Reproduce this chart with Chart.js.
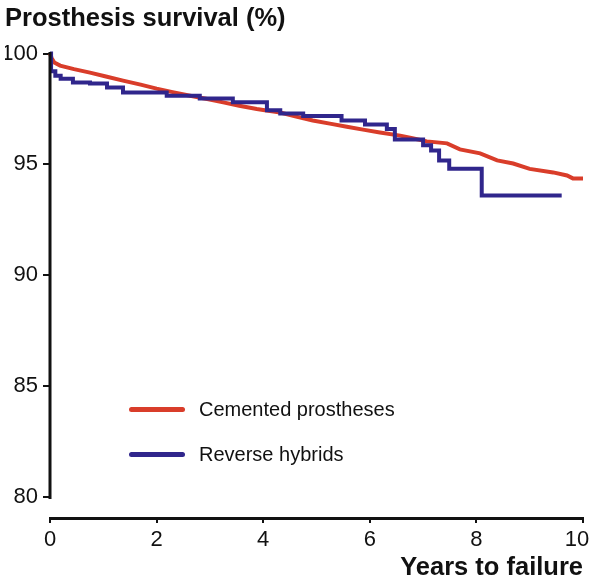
<!DOCTYPE html>
<html lang="en">
<head>
<meta charset="UTF-8">
<title>Prosthesis survival</title>
<script src="https://cdn.jsdelivr.net/npm/chart.js@4.4.0/dist/chart.umd.min.js"></script>
<style>
    body { margin: 0; background: #fff; }
    #wrap { position: relative; width: 590px; height: 583px; }
    .key { position: absolute; left: 129px; font: 20px "Liberation Sans", Arial, sans-serif; color: #111; }
    .key .line { position: absolute; left: 0; top: -2.5px; width: 56px; height: 5px; border-radius: 3px; }
    .key .txt { position: absolute; left: 70px; top: -12px; line-height: 24px; white-space: nowrap; }
</style>
</head>
<body>
<div id="wrap">
    <canvas id="survivalChart"></canvas>
    <div class="key" style="top:409px"><span class="line" style="background:#d93d2a"></span><span class="txt">Cemented prostheses</span></div>
    <div class="key" style="top:454px"><span class="line" style="background:#30268c"></span><span class="txt">Reverse hybrids</span></div>
</div>
<script>
    // values
    var cementedYears = [0, 0.03, 0.08, 0.19, 0.45, 0.75, 1.05, 1.37, 1.7, 2.0, 2.3, 2.63, 2.95, 3.25, 3.55, 3.88, 4.0, 4.32, 4.6, 4.93, 5.25, 5.57, 5.9, 6.19, 6.57, 6.8, 7.07, 7.45, 7.69, 8.07, 8.39, 8.69, 9.0, 9.44, 9.7, 9.81, 10.0];
    var cementedSurvival = [100, 99.8, 99.6, 99.46, 99.3, 99.14, 98.97, 98.78, 98.6, 98.42, 98.26, 98.1, 97.95, 97.8, 97.65, 97.5, 97.46, 97.34, 97.17, 96.98, 96.84, 96.7, 96.56, 96.44, 96.3, 96.18, 96.04, 95.95, 95.68, 95.5, 95.18, 95.04, 94.8, 94.64, 94.5, 94.37, 94.37];

    var reverseYears = [0, 0.02, 0.1, 0.2, 0.43, 0.75, 1.07, 1.37, 2.19, 2.81, 3.43, 4.07, 4.32, 4.75, 5.47, 5.91, 6.32, 6.47, 7.0, 7.15, 7.3, 7.49, 8.1, 9.6];
    var reverseSurvival = [100, 99.2, 99.0, 98.87, 98.7, 98.65, 98.47, 98.24, 98.1, 97.97, 97.8, 97.45, 97.3, 97.18, 96.98, 96.8, 96.6, 96.13, 95.86, 95.63, 95.18, 94.8, 93.6, 93.6];

    var xTicks = [0, 2, 4, 6, 8, 10];
    var yTicks = [80, 85, 90, 95, 100];

    function toPoints(xs, ys) {
        var pts = [];
        for (var i = 0; i < xs.length; i++) {
            pts.push({x: xs[i], y: ys[i]});
        }
        return pts;
    }

    // y axis line only spans 80..100, the x axis sits below it
    var yAxisLine = {
        id: 'yAxisLine',
        afterDatasetsDraw: function (chart) {
            var ctx = chart.ctx;
            var y = chart.scales.y;
            var left = chart.chartArea.left;
            ctx.save();
            ctx.strokeStyle = '#111';
            ctx.lineWidth = 3;
            ctx.beginPath();
            ctx.moveTo(left, y.getPixelForValue(80) + 2);
            ctx.lineTo(left, y.getPixelForValue(100) - 1.5);
            ctx.stroke();
            ctx.restore();
        }
    };

    Chart.defaults.font.family = '"Liberation Sans", Arial, Helvetica, sans-serif';
    Chart.defaults.color = '#111';

    var ctx = document.getElementById('survivalChart');
    var chart = new Chart(ctx, {
        type: 'line',
        data: {
            datasets: [{
                label: 'Cemented prostheses',
                data: toPoints(cementedYears, cementedSurvival),
                borderColor: '#d93d2a',
                borderWidth: 4,
                pointRadius: 0,
                tension: 0,
                order: 1,
                clip: 8
            }, {
                label: 'Reverse hybrids',
                data: toPoints(reverseYears, reverseSurvival),
                borderColor: '#30268c',
                borderWidth: 4,
                pointRadius: 0,
                stepped: true,
                order: 0,
                clip: 8
            }]
        },
        options: {
            responsive: true,
            maintainAspectRatio: false,
            animation: false,
            layout: {
                padding: {left: 5, right: 7, top: 0, bottom: 0},
                autoPadding: false
            },
            plugins: {
                legend: {display: false},
                tooltip: {enabled: false},
                title: {
                    display: true,
                    text: 'Prosthesis survival (%)',
                    align: 'start',
                    color: '#111',
                    font: {size: 25.5, weight: 'bold'},
                    padding: {top: 4, bottom: 19}
                }
            },
            scales: {
                x: {
                    type: 'linear',
                    min: 0,
                    max: 10,
                    afterBuildTicks: function (s) {
                        s.ticks = xTicks.map(function (v) { return {value: v}; });
                    },
                    ticks: {
                        font: {size: 22},
                        color: '#111',
                        padding: 4,
                        maxRotation: 0,
                        callback: function (v) { return v === 10 ? '10\u00a0\u00a0' : String(v); }
                    },
                    grid: {drawOnChartArea: false, drawTicks: true, tickLength: 5, color: '#111', lineWidth: 2},
                    border: {display: true, color: '#111', width: 3},
                    title: {
                        display: true,
                        text: 'Years to failure',
                        align: 'end',
                        color: '#111',
                        font: {size: 25.5, weight: 'bold'},
                        padding: {top: 0, bottom: 0}
                    },
                    afterFit: function (s) {
                        s.height = 65;
                        s.paddingLeft = 0;
                        s.paddingRight = 0;
                    }
                },
                y: {
                    min: 79.05,
                    max: 100,
                    afterBuildTicks: function (s) {
                        s.ticks = yTicks.map(function (v) { return {value: v}; });
                    },
                    ticks: {font: {size: 22}, color: '#111', padding: 5},
                    grid: {drawOnChartArea: false, drawTicks: true, tickLength: 7, color: '#111', lineWidth: 2},
                    border: {display: false},
                    afterFit: function (s) {
                        s.width = 45;
                        s.paddingTop = 0;
                        s.paddingBottom = 0;
                    }
                }
            }
        },
        plugins: [yAxisLine]
    });
</script>
</body>
</html>
